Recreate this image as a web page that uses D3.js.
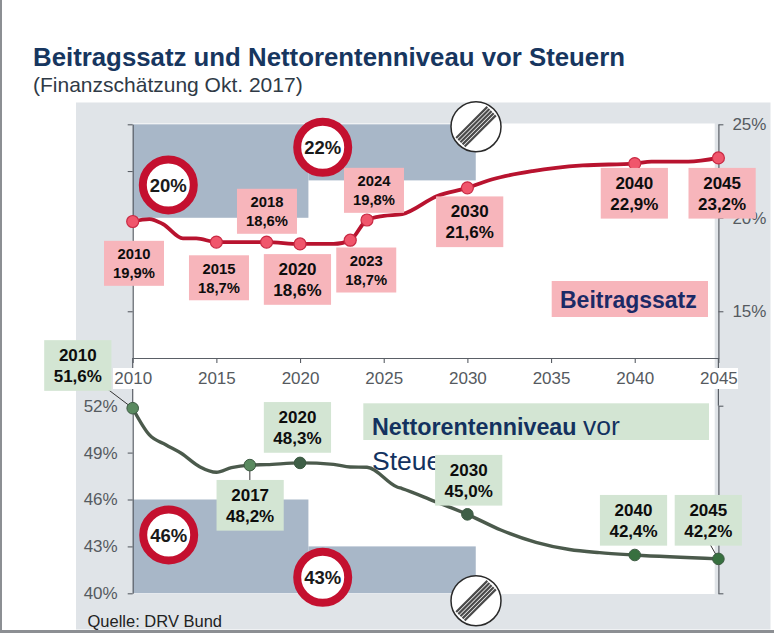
<!DOCTYPE html>
<html><head><meta charset="utf-8">
<script src="https://cdn.jsdelivr.net/npm/d3@7/dist/d3.min.js"></script>
<style>html,body{margin:0;padding:0;background:#fff}svg{display:block}text{font-family:"Liberation Sans",Arial,sans-serif}</style>
</head><body><div id="c"></div>
<script>
// ---- data ----
const axisYears = [2010,2015,2020,2025,2030,2035,2040,2045];
const beitragYears = [2010,2011,2011.8,2013,2013.8,2015,2016,2018,2020,2022,2023,2024,2025,2026.1,2028.2,2030,2031.5,2033.9,2036.9,2040,2041,2043.2,2045];
const beitragValues = [19.8,19.93,19.67,18.9,18.9,18.7,18.7,18.7,18.6,18.6,18.8,19.88,20.1,20.2,21.17,21.6,22.06,22.5,22.8,22.9,23.0,23.0,23.2];
const renteYears = [2010,2011,2012,2012.9,2014,2015,2015.9,2017,2018,2020,2022,2023,2024,2025.8,2026.1,2028,2030,2032,2034.1,2036.1,2037.9,2040,2045];
const renteValues = [51.84,50.13,49.49,48.96,48.1,47.74,48.04,48.2,48.23,48.34,48.25,48.08,48.06,46.8,46.7,45.9,45.05,44.05,43.26,42.8,42.6,42.45,42.2];
const beitragDotYears = [2010,2015,2018,2020,2023,2024,2030,2040,2045];
const beitragLabels = ["19,9%","18,7%","18,6%","18,6%","18,7%","19,8%","21,6%","22,9%","23,2%"];
const renteDotYears = [2010,2017,2020,2030,2040,2045];
const renteLabels = ["51,6%","48,2%","48,3%","45,0%","42,4%","42,2%"];
const leftTicksBeitrag = [25,22.5,20,17.5,15];
const rightTicksBeitrag = [25,20,15];
const ticksRente = [40,43,46,49,52];
const rightTicksRente = [40,52];
const limitSteps = [2010,2020.5,2030.5];
const beitragLimits = [20,22];
const renteLimits = [46,43];
const title = "Beitragssatz und Nettorentenniveau vor Steuern";
const subtitle = "(Finanzschätzung Okt. 2017)";
const source = "Quelle: DRV Bund";

// ---- layout ----
const W=774,H=633;
const x=d3.scaleLinear().domain([2010,2045]).range([132.7,718.4]);
const yB=d3.scaleLinear().domain([25,12.5]).range([124.3,358]);
const yR=d3.scaleLinear().domain([40,52]).range([593.3,405.7]);
const svg=d3.select("#c").append("svg").attr("width",W).attr("height",H);

const C={panel:"#e0e4e8",area:"#a8b7c8",pink:"#f7b5bb",green:"#d3e5d3",navy:"#13325f",grey:"#555a60",axis:"#5a5f66",red:"#c4102f"};

// frame + panel
svg.append("rect").attr("width",W).attr("height",H).attr("fill","#fff");
svg.append("rect").attr("x",76).attr("y",102.5).attr("width",694.5).attr("height",527).attr("fill",C.panel);
svg.append("rect").attr("x",x(2010)).attr("y",123.5).attr("width",582).attr("height",470.5).attr("fill","#fff");
svg.append("rect").attr("x",0).attr("y",0).attr("width",2).attr("height",H).attr("fill","#8c8f93");
svg.append("rect").attr("x",0).attr("y",630).attr("width",W).attr("height",3).attr("fill","#8c8f93");

// titles
svg.append("text").attr("x",33).attr("y",66).attr("font-size",25.8).attr("font-weight","bold").attr("fill","#17365f").text(title);
svg.append("text").attr("x",33).attr("y",92).attr("font-size",21).attr("fill","#2f3a46").text(subtitle);

// limit areas
const areaG=svg.append("g").attr("fill",C.area);
beitragLimits.forEach((v,i)=>areaG.append("rect").attr("x",x(i?limitSteps[1]:limitSteps[0])).attr("width",x(limitSteps[i+1])-x(i?limitSteps[1]:limitSteps[0])).attr("y",yB(25)).attr("height",yB(v)-yB(25)));
renteLimits.forEach((v,i)=>areaG.append("rect").attr("x",x(i?limitSteps[1]:limitSteps[0])).attr("width",x(limitSteps[i+1])-x(i?limitSteps[1]:limitSteps[0])).attr("y",yR(v)).attr("height",yR(40)-yR(v)));

// axes
function styleAxis(g){g.selectAll(".domain").attr("stroke",C.axis).attr("stroke-width",1.2);g.selectAll(".tick line").attr("stroke",C.axis).attr("stroke-width",1.1);g.selectAll("text").attr("font-size",17).attr("fill",C.grey).style("font-family",'"Liberation Sans",Arial,sans-serif');}
svg.append("g").attr("transform",`translate(${x(2010)},0)`).call(d3.axisLeft(yB).tickValues(leftTicksBeitrag).tickSize(5).tickSizeOuter(0).tickFormat("")).call(styleAxis);
svg.append("g").attr("transform",`translate(${x(2010)},0)`).call(d3.axisLeft(yR).tickValues(ticksRente).tickSize(5).tickSizeOuter(0).tickPadding(10).tickFormat(d=>d+"%")).call(styleAxis);
svg.append("line").attr("x1",x(2010)).attr("x2",x(2010)).attr("y1",yB(12.5)).attr("y2",yR(52)).attr("stroke",C.axis).attr("stroke-width",1.2);
svg.append("g").attr("transform",`translate(${x(2045)},0)`).call(d3.axisRight(yB).tickValues(rightTicksBeitrag).tickSize(5).tickSizeOuter(0).tickPadding(9).tickFormat(d=>d+"%")).call(styleAxis);
svg.append("g").attr("transform",`translate(${x(2045)},0)`).call(d3.axisRight(yR).tickValues(rightTicksRente).tickSize(5).tickSizeOuter(0).tickFormat("")).call(styleAxis);
svg.append("line").attr("x1",x(2045)).attr("x2",x(2045)).attr("y1",yB(12.5)).attr("y2",yR(52)).attr("stroke",C.axis).attr("stroke-width",1.2);
// white backing of the first and last year labels
svg.append("rect").attr("x",113).attr("y",368).attr("width",40).attr("height",21).attr("fill","#fff");
svg.append("rect").attr("x",699).attr("y",368).attr("width",39).attr("height",21).attr("fill","#fff");
svg.append("g").attr("transform",`translate(0,${yB(12.5)})`).call(d3.axisBottom(x).tickValues(axisYears).tickSize(5).tickSizeOuter(0).tickPadding(9).tickFormat(d3.format("d"))).call(styleAxis);

// speed-limit signs
function limitSign(cx,cy,t){
  const g=svg.append("g").attr("transform",`translate(${cx},${cy})`);
  g.append("circle").attr("r",25.5).attr("fill","#fff").attr("stroke",C.red).attr("stroke-width",8);
  g.append("text").attr("text-anchor","middle").attr("y",6.5).attr("font-size",18.5).attr("font-weight","bold").attr("fill","#1a1a1a").text(t);
}
function endSign(cx,cy){
  const g=svg.append("g").attr("transform",`translate(${cx},${cy})`);
  g.append("circle").attr("r",25).attr("fill","#fff").attr("stroke","#2a2a2a").attr("stroke-width",1.5);
  [-6,-3,0,3,6].forEach(o=>g.append("line").attr("x1",-22).attr("x2",22).attr("y1",o).attr("y2",o).attr("stroke","#4a4a4a").attr("stroke-width",2.2).attr("transform","rotate(-45)"));
}
limitSign(168.3,185,beitragLimits[0]+"%");
limitSign(322.7,147.3,beitragLimits[1]+"%");
limitSign(168.7,535,renteLimits[0]+"%");
limitSign(322.7,577.3,renteLimits[1]+"%");
endSign(476,126.7);
endSign(476,600.7);

// series-name boxes (text runs beneath the value boxes)
svg.append("rect").attr("x",551.7).attr("y",281).attr("width",156.3).attr("height",36).attr("fill",C.pink);
svg.append("text").attr("x",560).attr("y",308).attr("font-size",23).attr("font-weight","bold").attr("fill","#1c2a66").text("Beitragssatz");
svg.append("rect").attr("x",363.3).attr("y",403.3).attr("width",345.7).attr("height",36.7).attr("fill",C.green);
const nt=svg.append("text").attr("x",372).attr("y",435).attr("fill",C.navy);
nt.append("tspan").attr("font-size",23.3).attr("font-weight","bold").text("Nettorentenniveau ");
nt.append("tspan").attr("font-size",26.5).text("vor");
svg.append("text").attr("x",372).attr("y",470).attr("font-size",26.5).attr("fill",C.navy).text("Steuern");

// lines
const lineOf=(xs,ys,sy)=>d3.line().x((d,i)=>x(xs[i])).y((d,i)=>sy(ys[i])).curve(d3.curveMonotoneX)(xs);
svg.append("path").attr("d",lineOf(beitragYears,beitragValues,yB)).attr("fill","none").attr("stroke","#b8132f").attr("stroke-width",3.8);
svg.append("path").attr("d",lineOf(renteYears,renteValues,yR)).attr("fill","none").attr("stroke","#4b5a4c").attr("stroke-width",3.4);

const vB=yr=>beitragValues[beitragYears.indexOf(yr)];
const vR=yr=>renteValues[renteYears.indexOf(yr)];

// leader lines
[[2010,-29,-22],[2017,0,15],[2045,-8,-14]].forEach(([yr,dx,dy])=>{
  svg.append("line").attr("x1",x(yr)).attr("y1",yR(vR(yr))).attr("x2",x(yr)+dx).attr("y2",yR(vR(yr))+dy).attr("stroke","#333").attr("stroke-width",1);
});

// dots
svg.selectAll(".db").data(beitragDotYears).join("circle").attr("cx",d=>x(d)).attr("cy",d=>yB(vB(d))).attr("r",6).attr("fill","#f0566c").attr("stroke","#c92a44").attr("stroke-width",1.2);
const greenFill=["#5a8a60","#5a8a60","#3f5f47","#3f5f47","#37703f","#37703f"];
svg.selectAll(".dr").data(renteDotYears).join("circle").attr("cx",d=>x(d)).attr("cy",d=>yR(vR(d))).attr("r",5.8).attr("fill",(d,i)=>greenFill[i]).attr("stroke","#3c5a42").attr("stroke-width",1);

// value boxes: offset of centre from the dot, box size, font size
const S={w:60,h:45,f:14.8,g:9.4},L={w:67.2,h:50.7,f:17,g:10.5};
const pinkPlace=[[1.3,41.8,S],[2.6,35.7,S],[.4,-30.8,S],[-2.6,35.5,L],[16,29.8,S],[7,-29.7,S],[2.3,33.9,L],[-.4,29.7,L],[3.7,35.3,L]];
const greenPlace=[[-54.9,-42.7,L],[.3,40.2,L],[-2.6,-35.5,L],[1.3,-34.1,L],[-1.2,-34.7,L],[-10.1,-38.6,L]];
function box(px,py,p,fill,yr,lab){
  const cx=px+p[0],cy=py+p[1],s=p[2];
  svg.append("rect").attr("x",cx-s.w/2).attr("y",cy-s.h/2).attr("width",s.w).attr("height",s.h).attr("fill",fill);
  [[yr,-s.g],[lab,s.g]].forEach(([t,o])=>svg.append("text").attr("x",cx).attr("y",cy+o+s.f*.36).attr("text-anchor","middle").attr("font-size",s.f).attr("font-weight","bold").attr("fill","#0d0d0d").text(t));
}
beitragDotYears.forEach((yr,i)=>box(x(yr),yB(vB(yr)),pinkPlace[i],C.pink,yr,beitragLabels[i]));
renteDotYears.forEach((yr,i)=>box(x(yr),yR(vR(yr)),greenPlace[i],C.green,yr,renteLabels[i]));

svg.append("text").attr("x",87.5).attr("y",627).attr("font-size",16.5).attr("fill","#222").text(source);
</script></body></html>
